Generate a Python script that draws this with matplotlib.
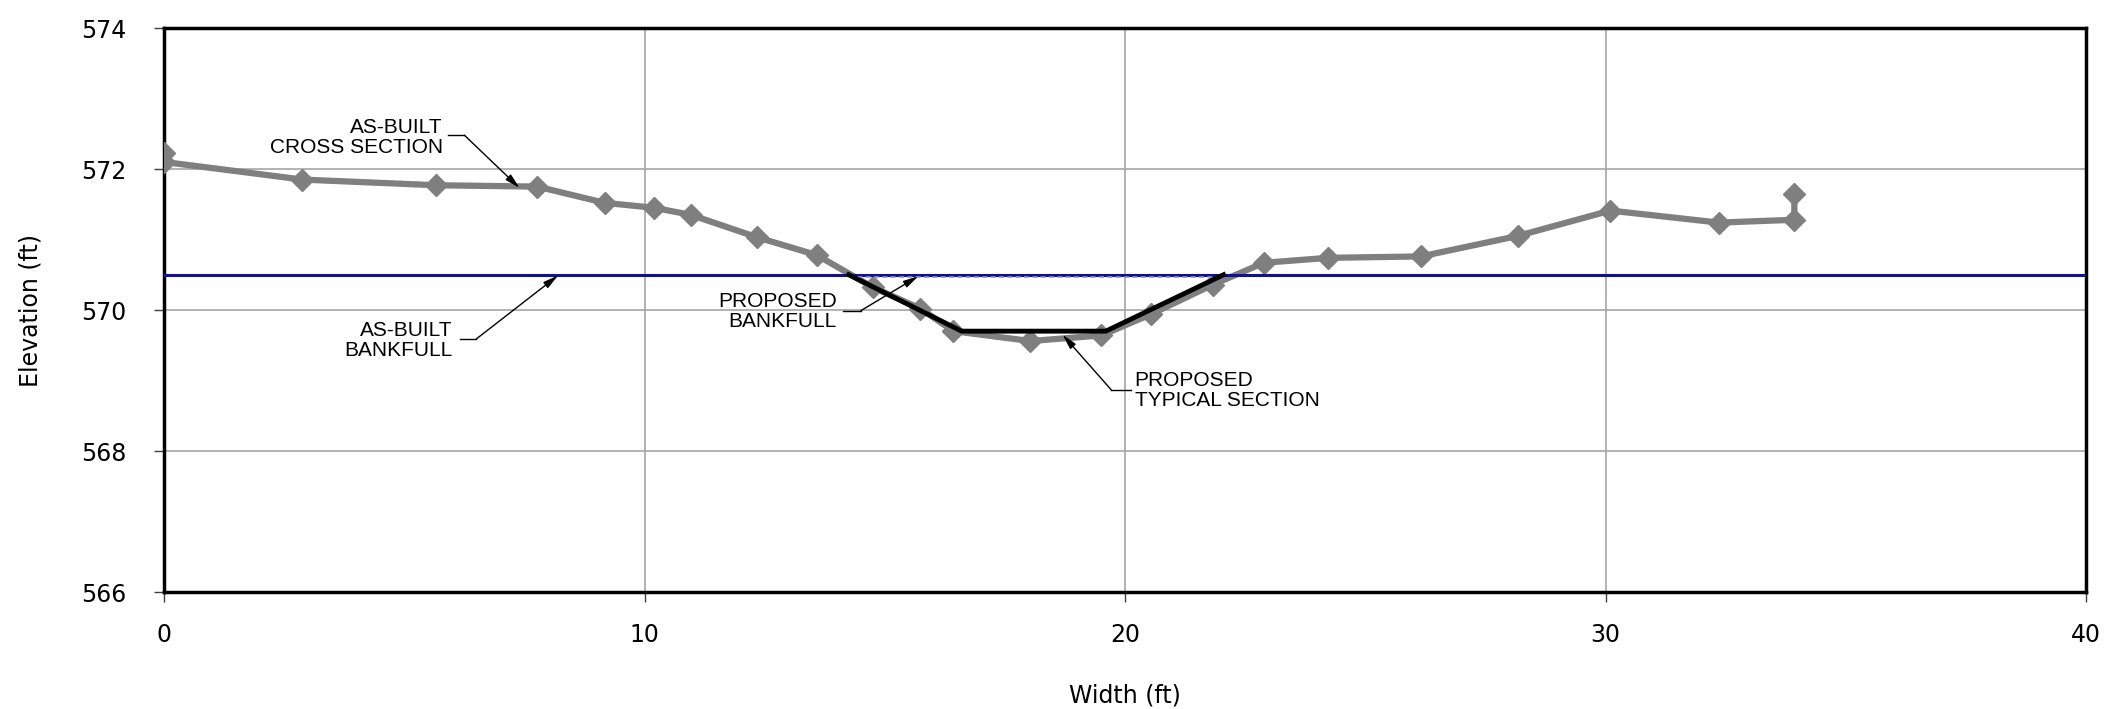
import matplotlib
matplotlib.use('Agg')
from matplotlib import pyplot as plt

# as-built cross section survey (width ft, elevation ft)
xs_width = [0.0, 0.0, 2.88, 5.65, 7.77, 9.17, 10.2, 10.96, 12.35, 13.58, 14.76, 15.74,
            16.43, 18.03, 19.51, 20.54, 21.83, 22.89, 24.23, 26.16, 28.17, 30.1, 32.36,
            33.93, 33.93]
xs_elev = [572.23, 572.10, 571.85, 571.77, 571.75, 571.52, 571.45, 571.35, 571.03, 570.78,
           570.32, 570.02, 569.70, 569.56, 569.64, 569.94, 570.36, 570.67, 570.74, 570.76,
           571.05, 571.41, 571.24, 571.28, 571.64]

# proposed typical section
prop_width = [14.25, 16.6, 19.6, 22.05]
prop_elev = [570.5, 569.7, 569.7, 570.5]

bankfull_elev = 570.5
x_ticks = [0, 10, 20, 30, 40]
y_ticks = [566, 568, 570, 572, 574]

# label text, text pos, knee start, knee end, arrow tip, alignment
notes = [
    ('AS-BUILT\nCROSS SECTION', (5.8, 572.45), (5.9, 572.48), (6.25, 572.48), (7.4, 571.73), 'right'),
    ('AS-BUILT\nBANKFULL', (6.0, 569.57), (6.15, 569.59), (6.5, 569.59), (8.2, 570.49), 'right'),
    ('PROPOSED\nBANKFULL', (14.0, 569.98), (14.12, 569.99), (14.5, 569.99), (15.7, 570.48), 'right'),
    ('PROPOSED\nTYPICAL SECTION', (20.2, 568.86), (20.12, 568.87), (19.71, 568.87), (18.7, 569.65), 'left'),
]

fig = plt.figure(figsize=(21.06, 7.09), dpi=100)
ax = fig.add_axes([0.0779, 0.165, 0.9126, 0.7955])

ax.grid(True, color='#a6a6a6', lw=1.2)
ax.set_axisbelow(True)

ax.plot(xs_width, xs_elev, color='#7f7f7f', lw=4.5, marker='D', ms=11, mec='#7f7f7f', zorder=3)

ax.axhline(bankfull_elev, color='#10109a', lw=2.2, zorder=4)
ax.plot([prop_width[0], prop_width[-1]], [bankfull_elev - 0.03] * 2, color='#9090d0',
        lw=1.2, ls=(0, (3, 2)), zorder=4)
ax.plot(prop_width, prop_elev, color='black', lw=3.5, zorder=5)

for txt, tpos, k0, k1, tip, ha in notes:
    ax.text(tpos[0], tpos[1], txt, ha=ha, va='center', fontsize=15,
            family='Liberation Sans', linespacing=1.1, zorder=6)
    ax.plot([k0[0], k1[0]], [k0[1], k1[1]], color='black', lw=1, zorder=6)
    ax.annotate('', xy=tip, xytext=k1,
                arrowprops=dict(arrowstyle='-|>,head_length=0.9,head_width=0.22',
                                color='black', lw=1, shrinkA=0, shrinkB=0), zorder=6)

ax.set_xlim(0, 40)
ax.set_ylim(566, 574)
ax.set_xticks(x_ticks)
ax.set_yticks(y_ticks)
ax.tick_params(axis='both', labelsize=17, length=7, width=1, color='#404040')
ax.tick_params(axis='x', pad=15)
ax.tick_params(axis='y', pad=20)
for s in ax.spines.values():
    s.set_linewidth(2.5)
    s.set_color('black')

ax.set_xlabel('Width (ft)', fontsize=17, va='center')
ax.set_ylabel('Elevation (ft)', fontsize=17, va='center')
ax.xaxis.set_label_coords(0.5, -0.184)
ax.yaxis.set_label_coords(-0.0697, 0.5)

plt.savefig('out.png', dpi=100)
